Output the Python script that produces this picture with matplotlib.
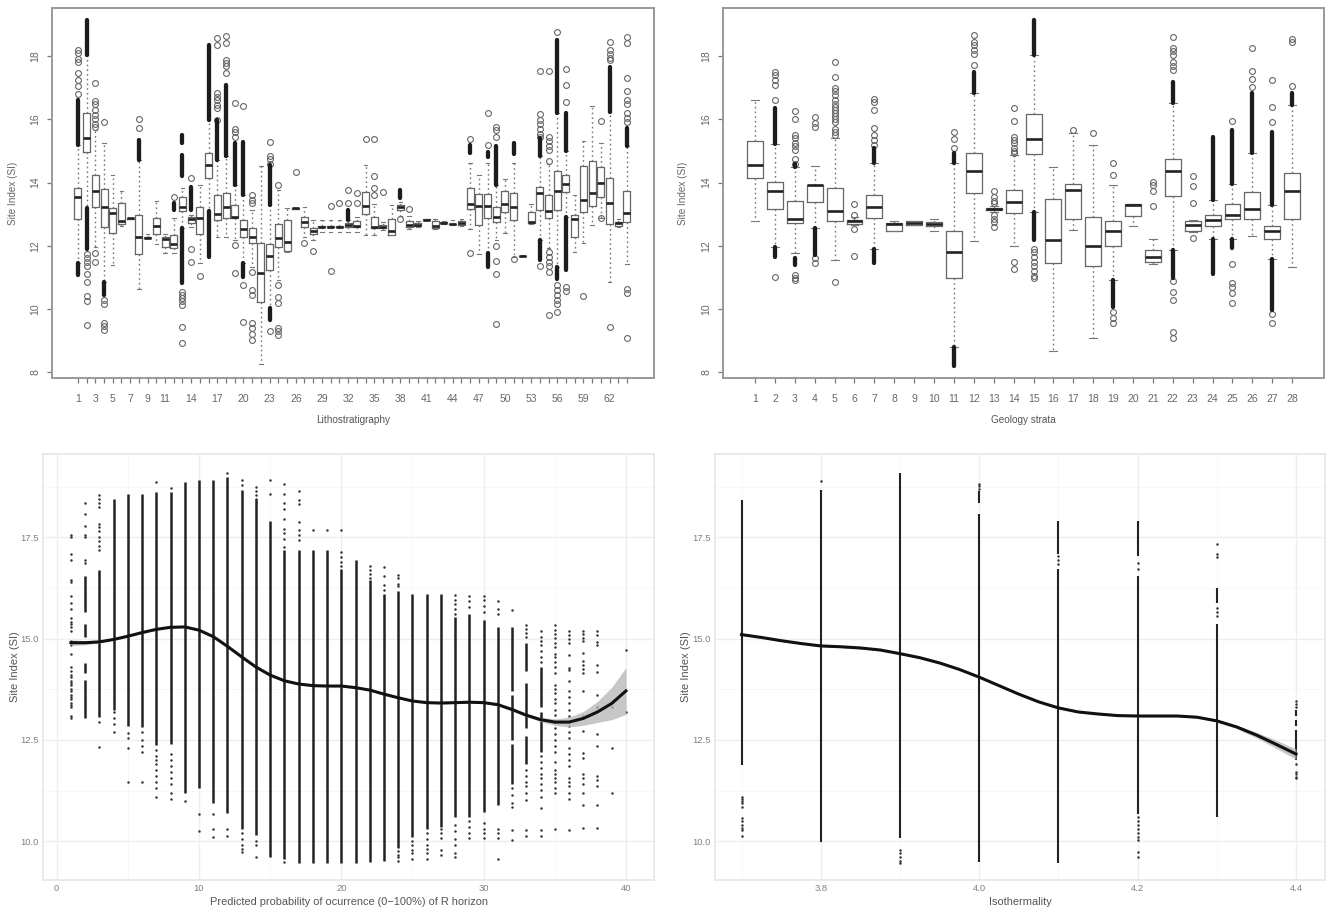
import matplotlib
import matplotlib.pyplot as plt

matplotlib.use("Agg")

plt.rcParams['font.family'] = ['Liberation Sans', 'DejaVu Sans']

W, H = 1326, 908

# ---- Lithostratigraphy boxes (one entry per position 1..64)
lith_q1 = [12.85, 14.98, 13.24, 12.6, 12.4, 12.7, 12.85, 11.74, 12.24, 12.37, 11.97, 11.92, 13.11, 12.73, 12.36, 14.15,
           12.82, 12.88, 12.87, 12.27, 12.08, 10.21, 11.24, 11.95, 11.85, 13.17, 12.6, 12.37, 12.58, 12.58, 12.58, 12.58,
           12.58, 13.0, 12.55, 12.57, 12.34, 13.13, 12.58, 12.63, 12.82, 12.56, 12.72, 12.68, 12.65, 13.16, 12.67, 12.88,
           12.76, 13.06, 12.82, 11.67, 12.71, 13.13, 12.87, 13.13, 13.69, 12.27, 13.08, 13.27, 13.55, 12.69, 12.62, 12.76]
lith_med = [13.54, 15.42, 13.74, 13.24, 13.05, 12.79, 12.87, 12.29, 12.26, 12.63, 12.2, 12.05, 13.24, 12.84, 12.87, 14.57,
            13.0, 13.24, 12.92, 12.52, 12.29, 11.15, 11.68, 12.24, 12.13, 13.18, 12.76, 12.48, 12.6, 12.6, 12.6, 12.65,
            12.64, 13.26, 12.6, 12.59, 12.48, 13.22, 12.65, 12.66, 12.83, 12.64, 12.73, 12.69, 12.71, 13.32, 13.26, 13.26,
            12.9, 13.32, 13.22, 11.68, 12.76, 13.68, 13.09, 13.73, 13.94, 12.84, 13.45, 13.68, 14.0, 13.36, 12.73, 13.03]
lith_q3 = [13.82, 16.2, 14.24, 13.8, 13.18, 13.34, 12.89, 12.96, 12.28, 12.87, 12.27, 12.33, 13.55, 12.9, 13.22, 14.92,
           13.6, 13.68, 13.29, 12.82, 12.55, 12.08, 12.05, 12.69, 12.82, 13.19, 12.9, 12.57, 12.62, 12.62, 12.62, 12.72,
           12.79, 13.69, 12.92, 12.66, 12.84, 13.29, 12.8, 12.72, 12.84, 12.8, 12.74, 12.7, 12.78, 13.84, 13.64, 13.63,
           13.24, 13.74, 13.66, 11.69, 13.06, 13.85, 13.6, 14.38, 14.25, 12.97, 14.52, 14.67, 14.5, 14.13, 12.76, 13.72]
lith_lo = [11.45, 13.2, 11.95, 10.87, 11.39, 12.64, 12.85, 10.63, 12.24, 12.05, 11.76, 11.76, 12.55, 12.6, 11.45, 13.11,
           12.29, 12.29, 12.18, 11.45, 11.34, 8.25, 10.02, 10.92, 11.82, 13.17, 12.29, 12.18, 12.45, 12.45, 12.45, 12.45,
           12.45, 12.34, 12.34, 12.5, 12.34, 12.95, 12.52, 12.6, 12.82, 12.53, 12.7, 12.66, 12.62, 12.52, 11.73, 11.76,
           12.18, 12.42, 11.66, 11.67, 12.68, 12.18, 11.92, 11.34, 12.92, 11.81, 12.08, 12.66, 12.89, 10.85, 12.6, 11.41]
lith_hi = [15.2, 18.03, 15.66, 15.26, 14.24, 13.73, 12.89, 14.71, 12.36, 13.42, 12.36, 12.87, 13.82, 12.97, 13.92, 15.97,
           14.71, 14.85, 13.92, 13.6, 13.13, 14.52, 13.29, 13.76, 13.18, 13.19, 13.24, 12.82, 12.82, 12.82, 12.82, 12.82,
           12.9, 14.55, 13.32, 12.75, 13.29, 13.4, 12.95, 12.8, 12.85, 12.85, 12.8, 12.82, 12.85, 14.63, 14.24, 14.61,
           13.92, 14.11, 14.63, 11.7, 13.32, 14.84, 14.6, 16.19, 15.0, 13.6, 15.31, 16.42, 15.26, 16.24, 12.85, 15.15]
lith_fliers = {
    1: [18.2, 18.1, 17.9, 17.8, 17.45, 17.25, 17.05, 16.8],
    2: [11.75, 11.6, 11.5, 11.35, 11.1, 10.85, 10.4, 10.25, 9.5],
    3: [17.14, 16.58, 16.5, 16.3, 16.15, 16.0, 15.85, 15.75, 11.76, 11.48],
    4: [15.92, 10.3, 10.15, 9.55, 9.45, 9.34],
    8: [16.0, 15.71],
    12: [13.55],
    13: [10.55, 10.45, 10.35, 10.25, 10.13, 9.44, 8.92],
    14: [14.13, 11.89, 11.5],
    15: [11.05],
    17: [18.56, 18.35, 16.82, 16.7, 16.6, 16.45, 16.35, 15.97],
    18: [18.64, 18.42, 17.87, 17.78, 17.7, 17.45],
    19: [16.52, 15.7, 15.6, 15.45, 12.03, 11.15],
    20: [16.42, 10.76, 9.58],
    21: [13.6, 13.45, 13.34, 11.18, 10.6, 10.44, 9.57, 9.39, 9.2, 9.02],
    23: [15.29, 14.85, 14.75, 14.6, 9.32],
    24: [13.92, 10.76, 10.39, 10.2, 9.4, 9.3, 9.18],
    26: [14.33],
    27: [12.08],
    28: [11.83],
    30: [13.27, 11.21],
    31: [13.34],
    32: [13.76, 13.34],
    33: [13.68, 13.34],
    34: [15.39],
    35: [15.39, 14.22, 13.84, 13.6],
    36: [13.69],
    38: [12.85],
    39: [13.16],
    46: [15.39, 11.78],
    48: [16.21, 15.19],
    49: [15.77, 15.65, 15.45, 12.0, 11.53, 11.1, 9.52],
    51: [11.58],
    54: [17.52, 16.17, 15.98, 15.85, 15.7, 15.55, 15.45, 11.37],
    55: [17.52, 15.45, 15.3, 15.15, 15.03, 14.69, 11.81, 11.65, 11.5, 11.35, 11.18, 9.8],
    56: [18.77, 10.76, 10.6, 10.45, 10.3, 10.15, 9.92],
    57: [17.58, 17.08, 16.56, 10.7, 10.58],
    59: [10.42],
    61: [15.95, 12.89],
    62: [18.45, 18.19, 18.05, 17.95, 17.87, 9.44],
    64: [18.59, 18.4, 17.32, 16.9, 16.6, 16.5, 16.19, 16.05, 15.92, 10.62, 10.5, 9.1],
}
lith_runs = {
    1: [(15.2, 16.6), (11.08, 11.45)],
    2: [(18.03, 19.14), (11.9, 13.2)],
    4: [(10.45, 10.87)],
    8: [(14.71, 15.35)],
    12: [(13.13, 13.34)],
    13: [(15.24, 15.5), (14.2, 14.87), (10.81, 12.55)],
    14: [(13.13, 13.87)],
    16: [(15.97, 18.35), (11.66, 13.11)],
    17: [(14.71, 15.97)],
    18: [(14.85, 17.08)],
    19: [(13.92, 15.24)],
    20: [(13.6, 15.29), (11.02, 11.45)],
    23: [(13.29, 14.55), (9.65, 10.02)],
    32: [(12.82, 13.13)],
    38: [(13.5, 13.76)],
    46: [(14.92, 15.19)],
    48: [(14.82, 14.97), (11.34, 11.76)],
    49: [(13.92, 15.15)],
    51: [(14.9, 15.24)],
    54: [(14.84, 15.4), (11.55, 12.18)],
    56: [(16.19, 18.5), (10.95, 11.34)],
    57: [(15.0, 16.21), (11.24, 12.92)],
    62: [(16.24, 17.66)],
    64: [(15.15, 15.71)],
}
lith_ticklabels = {1: '1', 3: '3', 5: '5', 7: '7', 9: '9', 11: '11', 14: '14', 17: '17', 20: '20', 23: '23', 26: '26',
                   29: '29', 32: '32', 35: '35', 38: '38', 41: '41', 44: '44', 47: '47', 50: '50', 53: '53', 56: '56',
                   59: '59', 62: '62'}

# ---- Geology strata boxes (positions 1..28)
geo_q1 = [14.13, 13.16, 12.71, 13.37, 12.77, 12.7, 12.89, 12.48, 12.66, 12.63, 10.98, 13.66, 13.13, 13.03, 14.91, 11.45,
          12.86, 11.36, 12.0, 12.95, 11.5, 13.58, 12.47, 12.64, 12.86, 12.85, 12.2, 12.84]
geo_med = [14.55, 13.73, 12.85, 13.91, 13.1, 12.77, 13.22, 12.68, 12.73, 12.69, 11.79, 14.36, 13.17, 13.37, 15.37, 12.18,
           13.75, 11.99, 12.48, 13.29, 11.66, 14.36, 12.66, 12.82, 12.98, 13.15, 12.47, 13.73]
geo_q3 = [15.33, 14.02, 13.43, 13.92, 13.82, 12.81, 13.6, 12.73, 12.77, 12.74, 12.47, 14.95, 13.21, 13.78, 16.17, 13.48,
          13.95, 12.92, 12.8, 13.31, 11.87, 14.76, 12.8, 12.96, 13.31, 13.69, 12.64, 14.3]
geo_lo = [12.77, 11.97, 11.78, 12.55, 11.56, 12.65, 11.89, 12.48, 12.66, 12.48, 8.81, 12.14, 13.08, 12.0, 13.08, 8.67,
          12.5, 9.1, 10.92, 12.64, 11.42, 11.87, 12.44, 12.23, 12.23, 12.31, 11.57, 11.34]
geo_hi = [16.61, 15.22, 14.5, 14.52, 15.4, 12.9, 14.63, 12.8, 12.8, 12.84, 14.61, 16.84, 13.25, 14.87, 18.03, 14.5,
          15.56, 15.19, 13.92, 13.31, 12.23, 16.52, 12.82, 13.45, 13.95, 14.92, 13.29, 16.45]
geo_fliers = {
    2: [17.5, 17.4, 17.25, 17.08, 16.61, 11.0],
    3: [16.26, 16.0, 15.5, 15.4, 15.25, 15.15, 15.03, 14.76, 14.6, 11.08, 10.98, 10.92],
    4: [16.08, 15.87, 15.77, 11.6, 11.45],
    5: [17.82, 17.33, 16.98, 16.88, 16.77, 16.6, 16.5, 16.4, 16.3, 16.2, 16.1, 16.0, 15.9, 15.7, 15.6, 15.5, 10.86],
    6: [13.32, 12.97, 12.54, 11.68],
    7: [16.63, 16.55, 16.28, 15.72, 15.5, 15.35, 15.2],
    11: [15.61, 15.37, 15.08],
    12: [18.66, 18.45, 18.35, 18.2, 18.08, 17.72],
    13: [13.73, 13.55, 13.42, 13.34, 12.97, 12.85, 12.75, 12.6],
    14: [16.37, 15.95, 15.45, 15.35, 15.25, 15.1, 15.0, 14.92, 11.5, 11.26],
    15: [11.9, 11.8, 11.65, 11.5, 11.35, 11.2, 11.05, 10.97],
    17: [15.66],
    18: [15.56],
    19: [14.61, 14.24, 9.92, 9.71, 9.55],
    21: [14.03, 13.92, 13.74, 13.27],
    22: [18.59, 18.24, 18.15, 18.03, 17.82, 17.7, 17.56, 10.89, 10.55, 10.29, 9.27, 9.07],
    23: [14.21, 13.89, 13.34, 12.26],
    25: [15.95, 11.41, 10.81, 10.7, 10.5, 10.18],
    26: [18.27, 17.53, 17.28, 17.03],
    27: [17.24, 16.4, 15.92, 9.84, 9.55],
    28: [18.53, 18.45, 17.05],
}
geo_runs = {
    2: [(15.22, 16.35), (11.66, 11.97)],
    3: [(14.5, 14.6), (11.39, 11.6)],
    4: [(11.7, 12.55)],
    7: [(14.63, 15.1), (11.47, 11.89)],
    11: [(14.61, 14.92), (8.21, 8.81)],
    12: [(16.84, 17.5)],
    15: [(18.03, 19.14), (12.18, 13.08)],
    19: [(10.08, 10.92)],
    22: [(16.52, 17.19), (10.97, 11.87)],
    24: [(13.45, 15.45), (11.11, 12.23)],
    25: [(13.95, 15.66), (11.92, 12.23)],
    26: [(14.92, 16.84)],
    27: [(13.29, 15.61), (9.97, 11.57)],
    28: [(16.45, 16.84)],
}

# ---- Predicted probability of R horizon scatter
prob_runs = {
    2: [(15.66, 16.54), (15.05, 15.37), (14.14, 14.39), (13.03, 13.97)],
    3: [(13.07, 16.69)],
    4: [(13.23, 18.44)],
    5: [(12.84, 18.57)],
    6: [(12.82, 18.57)],
    7: [(12.37, 18.63)],
    8: [(12.41, 18.63)],
    9: [(11.18, 18.87)],
    10: [(11.3, 18.91)],
    11: [(10.95, 18.93)],
    12: [(10.7, 18.99)],
    13: [(10.3, 18.67)],
    14: [(10.15, 18.46)],
    15: [(9.6, 17.9)],
    16: [(9.55, 17.19)],
    17: [(9.47, 17.2)],
    18: [(9.47, 17.2)],
    19: [(9.47, 17.2)],
    20: [(9.47, 16.73)],
    21: [(9.47, 16.95)],
    22: [(9.49, 16.44)],
    23: [(9.51, 16.1)],
    24: [(9.82, 16.18)],
    25: [(10.11, 16.1)],
    26: [(10.31, 16.1)],
    27: [(10.35, 16.1)],
    28: [(10.6, 15.54)],
    29: [(10.6, 15.62)],
    30: [(10.72, 15.46)],
    31: [(10.89, 15.3)],
    32: [(13.7, 15.3), (12.5, 13.6), (11.4, 12.4)],
    33: [(14.2, 14.9), (12.8, 13.9), (11.9, 12.6)],
    34: [(13.3, 14.3), (12.2, 13.2)],
}
prob_points = {
    1: [17.55, 17.5, 17.1, 16.95, 16.45, 16.4, 16.05, 15.87, 15.72, 15.5, 15.42, 15.35, 15.28, 15.2, 14.95, 14.85, 14.63,
        14.3, 14.2, 14.1, 14.05, 13.95, 13.9, 13.85, 13.75, 13.7, 13.62, 13.55, 13.5, 13.42, 13.35, 13.3, 13.1, 13.05],
    2: [18.36, 18.07, 17.78, 17.55, 17.5, 16.95, 16.88],
    3: [18.54, 18.45, 18.35, 18.25, 17.84, 17.75, 17.65, 17.5, 17.42, 17.3, 17.18, 12.95, 12.33],
    4: [13.2, 13.05, 12.9, 12.7],
    5: [12.67, 12.55, 12.31, 11.46],
    6: [12.7, 12.5, 12.35, 12.2, 11.46],
    7: [18.87, 12.25, 12.1, 12.0, 11.9, 11.75, 11.6, 11.45, 11.3, 11.08],
    8: [18.72, 12.16, 12.0, 11.85, 11.7, 11.55, 11.4, 11.2, 11.05],
    9: [11.0],
    10: [10.67, 10.25],
    11: [10.67, 10.3, 10.11],
    12: [19.08, 10.3, 10.13],
    13: [18.93, 18.79, 10.2, 10.05, 9.9, 9.8, 9.74],
    14: [18.75, 18.65, 18.55, 18.46, 10.0, 9.9, 9.61],
    15: [18.91, 18.58],
    16: [18.83, 18.58, 18.34, 18.2, 17.96, 17.72, 17.6, 17.45, 17.27, 9.49],
    17: [18.65, 18.42, 18.32, 17.88, 17.68, 17.55, 17.43],
    18: [17.68],
    19: [17.68],
    20: [17.68, 17.14, 17.02, 16.9, 16.8],
    22: [16.79, 16.7, 16.6, 16.5],
    23: [16.77, 16.54, 16.32, 16.2],
    24: [16.57, 16.5, 16.36, 16.3, 9.75, 9.65, 9.6, 9.5],
    25: [10.0, 9.9, 9.78, 9.7, 9.55],
    26: [10.2, 10.05, 9.9, 9.8, 9.7, 9.55],
    27: [10.3, 10.2, 10.07, 9.79, 9.65],
    28: [16.07, 15.95, 15.85, 15.72, 15.6, 10.4, 10.25, 10.05, 9.9, 9.7, 9.6],
    29: [16.05, 15.93, 15.77, 10.5, 10.35, 10.2, 10.07],
    30: [16.05, 15.95, 15.8, 15.65, 10.44, 10.3, 10.2, 10.07],
    31: [15.93, 15.73, 15.6, 10.31, 10.2, 10.07, 9.56],
    32: [15.7, 11.3, 11.15, 10.95, 10.85, 10.27, 10.02],
    33: [15.33, 15.25, 15.15, 15.05, 11.75, 11.6, 11.45, 11.35, 11.2, 11.01, 10.27, 10.12],
    34: [15.19, 15.05, 14.95, 14.85, 14.7, 14.55, 14.42, 12.1, 11.95, 11.8, 11.65, 11.55, 11.4, 11.26, 11.08, 10.81,
         10.27, 10.12],
    35: [15.33, 15.22, 15.12, 15.02, 14.9, 14.8, 14.62, 14.55, 14.42, 14.3, 14.15, 13.85, 13.75, 13.65, 13.5, 13.4,
         13.25, 13.12, 12.95, 12.8, 12.65, 12.5, 12.35, 12.2, 11.95, 11.75, 11.65, 11.55, 11.45, 11.3, 11.19, 10.3],
    36: [15.19, 15.1, 15.0, 14.9, 14.6, 14.28, 14.22, 13.95, 13.7, 13.55, 13.4, 13.25, 13.1, 12.95, 12.85, 12.7, 12.55,
         12.3, 12.15, 12.0, 11.85, 11.55, 11.45, 11.35, 11.2, 11.05, 10.28],
    37: [15.19, 15.12, 15.02, 14.95, 14.65, 14.45, 14.35, 14.25, 14.15, 13.7, 13.1, 12.72, 12.17, 12.06, 11.65, 11.55,
         11.4, 11.2, 10.9, 10.32],
    38: [15.19, 15.08, 14.92, 14.85, 14.35, 14.18, 13.6, 13.3, 12.65, 12.35, 11.6, 11.52, 11.36, 10.9, 10.32],
    39: [13.32, 12.29, 11.19],
    40: [14.73, 13.18],
}
prob_x = list(range(1, 41))
prob_fit = [14.9, 14.9, 14.92, 14.98, 15.06, 15.15, 15.23, 15.28, 15.29, 15.21, 15.05, 14.81, 14.55, 14.3, 14.1, 13.96,
            13.88, 13.84, 13.83, 13.83, 13.79, 13.73, 13.63, 13.54, 13.46, 13.42, 13.41, 13.42, 13.43, 13.42, 13.37,
            13.25, 13.11, 13.0, 12.94, 12.94, 13.03, 13.19, 13.4, 13.71]
prob_ci = [0.07, 0.05, 0.03, 0.02, 0.02, 0.02, 0.02, 0.02, 0.02, 0.02, 0.02, 0.02, 0.02, 0.02, 0.02, 0.02,
           0.02, 0.02, 0.02, 0.02, 0.02, 0.02, 0.02, 0.02, 0.02, 0.02, 0.02, 0.02, 0.02, 0.02, 0.03,
           0.03, 0.04, 0.05, 0.08, 0.12, 0.17, 0.26, 0.4, 0.58]

# ---- Isothermality scatter
iso_runs = {
    3.7: [(11.88, 18.42)],
    3.8: [(9.98, 18.68)],
    3.9: [(10.07, 19.08)],
    4.0: [(9.49, 18.09), (18.34, 18.65)],
    4.1: [(9.47, 16.73), (17.1, 17.9)],
    4.2: [(10.68, 16.54), (17.05, 17.9)],
    4.3: [(10.6, 15.37), (15.87, 16.24)],
    4.4: [(12.0, 12.74), (12.85, 13.0), (13.1, 13.25)],
}
iso_points = {
    3.7: [11.1, 11.05, 11.0, 10.95, 10.85, 10.56, 10.5, 10.4, 10.33, 10.27, 10.12],
    3.8: [18.9],
    3.9: [9.78, 9.7, 9.6, 9.52, 9.47],
    4.0: [18.83, 18.78, 18.7],
    4.1: [16.85, 16.95, 17.05],
    4.2: [16.87, 16.72, 10.6, 10.5, 10.4, 10.3, 10.2, 10.1, 10.02, 9.72, 9.61],
    4.3: [17.33, 17.1, 17.02, 15.75, 15.65, 15.55],
    4.4: [13.46, 13.38, 13.3, 11.9, 11.71, 11.65, 11.58, 11.55],
}
iso_x = [3.7, 3.725, 3.75, 3.775, 3.8, 3.825, 3.85, 3.875, 3.9, 3.925, 3.95, 3.975, 4.0, 4.025, 4.05, 4.075, 4.1,
         4.125, 4.15, 4.175, 4.2, 4.225, 4.25, 4.275, 4.3, 4.325, 4.35, 4.375, 4.4]
iso_fit = [15.1, 15.03, 14.95, 14.88, 14.82, 14.8, 14.77, 14.72, 14.63, 14.53, 14.4, 14.24, 14.05, 13.84, 13.63, 13.44,
           13.29, 13.19, 13.14, 13.1, 13.09, 13.09, 13.09, 13.06, 12.97, 12.82, 12.62, 12.39, 12.15]
iso_ci = [0.02, 0.02, 0.02, 0.02, 0.02, 0.02, 0.02, 0.02, 0.02, 0.02, 0.02, 0.02, 0.02, 0.02, 0.02, 0.02,
          0.02, 0.02, 0.02, 0.02, 0.02, 0.02, 0.02, 0.02, 0.03, 0.04, 0.07, 0.1, 0.13]


def add_axes(left, top, right, bottom):
    return plt.axes([left / W, 1 - bottom / H, (right - left) / W, (bottom - top) / H])


def box_panel(ax, q1, med, q3, lo, hi, fliers, runs, xlim, xlabel, label_x):
    stats = []
    for i in range(len(q1)):
        stats.append({'q1': q1[i], 'med': med[i], 'q3': q3[i], 'whislo': lo[i], 'whishi': hi[i],
                      'fliers': fliers.get(i + 1, [])})
    ax.bxp(stats, positions=range(1, len(q1) + 1), widths=0.8, manage_ticks=False,
           boxprops=dict(color='#666666', linewidth=0.9),
           medianprops=dict(color='#222222', linewidth=1.9, solid_capstyle='butt'),
           whiskerprops=dict(color='#777777', linewidth=1.0, linestyle=(0, (1.2, 2.2))),
           capprops=dict(color='#777777', linewidth=0.8),
           flierprops=dict(marker='o', markersize=4.2, markerfacecolor='none',
                           markeredgecolor='#666666', markeredgewidth=0.8))
    for pos, pairs in runs.items():
        for a, b in pairs:
            ax.vlines(pos, a, b, color='#1c1c1c', linewidth=3.1, capstyle='round')
    ax.set_xlim(*xlim)
    ax.set_ylim(7.82, 19.52)
    ax.set_yticks([8, 10, 12, 14, 16, 18])
    ax.set_yticklabels(['8', '10', '12', '14', '16', '18'], rotation=90, va='center')
    ax.tick_params(colors='#777777', labelcolor='#666666', labelsize=7.5, length=3.5, width=0.9)
    ax.tick_params(axis='x', pad=8)
    ax.tick_params(axis='y', pad=5)
    for s in ax.spines.values():
        s.set_color('#999999')
        s.set_linewidth(1.4)
    ax.set_ylabel('Site Index (SI)', fontsize=7.2, color='#666666')
    ax.yaxis.set_label_coords(label_x, 0.5)
    ax.set_xlabel(xlabel, fontsize=7.2, color='#555555')
    ax.xaxis.set_label_coords(0.5, -0.1)


def scatter_panel(ax, runs, points, x, fit, ci, run_width, xlim, xticks, xticklabels, minor_x, xlabel, label_x):
    ax.set_axisbelow(True)
    ax.set_xlim(*xlim)
    ax.set_ylim(9.04, 19.56)
    ax.set_xticks(xticks)
    ax.set_xticklabels(xticklabels)
    ax.set_xticks(minor_x, minor=True)
    ax.set_yticks([10, 12.5, 15, 17.5])
    ax.set_yticklabels(['10.0', '12.5', '15.0', '17.5'])
    ax.set_yticks([11.25, 13.75, 16.25, 18.75], minor=True)
    ax.grid(True, which='major', color='#eeeeee', linewidth=1.0)
    ax.grid(True, which='minor', color='#f6f6f6', linewidth=0.6)
    ax.tick_params(which='both', length=0)
    ax.tick_params(axis='both', labelcolor='#808080', labelsize=6.8, pad=3)
    for s in ax.spines.values():
        s.set_color('#e6e6e6')
        s.set_linewidth(1.2)
    for pos, pairs in runs.items():
        for a, b in pairs:
            ax.vlines(pos, a, b, color='#222222', linewidth=run_width, zorder=2)
    for pos, vals in points.items():
        ax.plot([pos] * len(vals), vals, linestyle='none', marker='o', markersize=1.8,
                color='#333333', markeredgewidth=0, zorder=2)
    upper = [f + c for f, c in zip(fit, ci)]
    lower = [f - c for f, c in zip(fit, ci)]
    ax.fill_between(x, lower, upper, color='#b5b5b5', alpha=0.75, linewidth=0, zorder=3)
    ax.plot(x, fit, color='#111111', linewidth=2.2, zorder=4)
    ax.set_ylabel('Site Index (SI)', fontsize=8, color='#555555')
    ax.yaxis.set_label_coords(label_x, 0.5)
    ax.set_xlabel(xlabel, fontsize=7.9, color='#555555', labelpad=3)


fig = plt.figure(figsize=(W / 100, H / 100), dpi=100)

ax1 = add_axes(52, 8, 654, 378)
box_panel(ax1, lith_q1, lith_med, lith_q3, lith_lo, lith_hi, lith_fliers, lith_runs, (-1.97, 67.1),
          'Lithostratigraphy', -0.056)
ax1.set_xticks(range(1, 65))
ax1.set_xticklabels([lith_ticklabels.get(p, '') for p in range(1, 65)])

ax2 = add_axes(723, 8, 1324, 378)
box_panel(ax2, geo_q1, geo_med, geo_q3, geo_lo, geo_hi, geo_fliers, geo_runs, (-0.61, 29.6),
          'Geology strata', -0.058)
ax2.set_xticks(range(1, 29))
ax2.set_xticklabels([str(p) for p in range(1, 29)])

ax3 = add_axes(43, 454, 654, 880)
scatter_panel(ax3, prob_runs, prob_points, prob_x, prob_fit, prob_ci, 1.8, (-0.96, 41.97),
              [0, 10, 20, 30, 40], ['0', '10', '20', '30', '40'], [5, 15, 25, 35],
              'Predicted probability of ocurrence (0\u2212100%) of R horizon', -0.038)

ax4 = add_axes(715, 454, 1325, 880)
scatter_panel(ax4, iso_runs, iso_points, iso_x, iso_fit, iso_ci, 1.5, (3.6665, 4.4366),
              [3.8, 4.0, 4.2, 4.4], ['3.8', '4.0', '4.2', '4.4'], [3.7, 3.9, 4.1, 4.3],
              'Isothermality', -0.04)

plt.savefig('out.png', dpi=100)
plt.close()
